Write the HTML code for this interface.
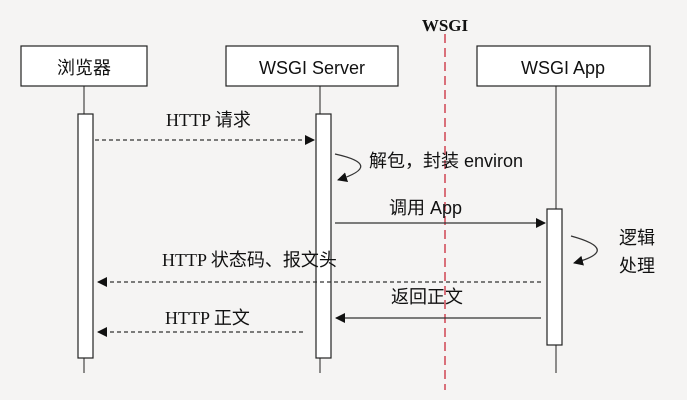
<!DOCTYPE html>
<html><head><meta charset="utf-8"><style>
html,body{margin:0;padding:0;background:#f5f4f3;}
svg{display:block;}
text{font-family:"Liberation Sans","Noto Sans CJK SC",sans-serif;font-size:18px;fill:#111;}
.s{font-family:"Liberation Serif","Noto Sans CJK SC",serif;}
</style></head><body>
<svg width="687" height="400" viewBox="0 0 687 400" xmlns="http://www.w3.org/2000/svg">
<defs>
<marker id="a" markerWidth="10" markerHeight="10" refX="9" refY="5" orient="auto" markerUnits="userSpaceOnUse">
<path d="M0,0 L10,5 L0,10 z" fill="#111"/></marker>
</defs>
<rect width="687" height="400" fill="#f5f4f3"/>
<line x1="445" y1="34" x2="445" y2="390" stroke="#d9707a" stroke-width="2" stroke-dasharray="9,5"/>
<text x="445" y="31" text-anchor="middle" class="s" style="font-weight:bold;font-size:17px">WSGI</text>
<g stroke="#222" stroke-width="1">
<line x1="84" y1="86" x2="84" y2="373"/>
<line x1="320" y1="86" x2="320" y2="373"/>
<line x1="556" y1="86" x2="556" y2="373"/>
</g>
<g fill="#fff" stroke="#222" stroke-width="1.2">
<rect x="21" y="46" width="126" height="40"/>
<rect x="226" y="46" width="172" height="40"/>
<rect x="477" y="46" width="173" height="40"/>
<rect x="78" y="114" width="15" height="244"/>
<rect x="316" y="114" width="15" height="244"/>
<rect x="547" y="209" width="15" height="136"/>
</g>
<text x="84" y="74" text-anchor="middle">浏览器</text>
<text x="312" y="74" text-anchor="middle">WSGI Server</text>
<text x="563" y="74" text-anchor="middle">WSGI App</text>
<g stroke="#333" stroke-width="1.3" fill="none">
<line x1="95" y1="140" x2="314" y2="140" stroke-dasharray="4,3" marker-end="url(#a)"/>
<path d="M335,154 Q385,165 338,180" marker-end="url(#a)"/>
<line x1="335" y1="223" x2="545" y2="223" marker-end="url(#a)"/>
<path d="M571,236 Q622,250 574,263" marker-end="url(#a)"/>
<line x1="541" y1="282" x2="98" y2="282" stroke-dasharray="4,3" marker-end="url(#a)"/>
<line x1="541" y1="318" x2="336" y2="318" marker-end="url(#a)"/>
<line x1="303" y1="332" x2="98" y2="332" stroke-dasharray="4,3" marker-end="url(#a)"/>
</g>
<text x="166" y="126" class="s">HTTP 请求</text>
<text x="369" y="167">解包，封装 environ</text>
<text x="389" y="214">调用 App</text>
<text x="619" y="244">逻辑</text>
<text x="619" y="272">处理</text>
<text x="162" y="266" class="s">HTTP 状态码、报文头</text>
<text x="391" y="303">返回正文</text>
<text x="165" y="324" class="s">HTTP 正文</text>
</svg>
</body></html>
